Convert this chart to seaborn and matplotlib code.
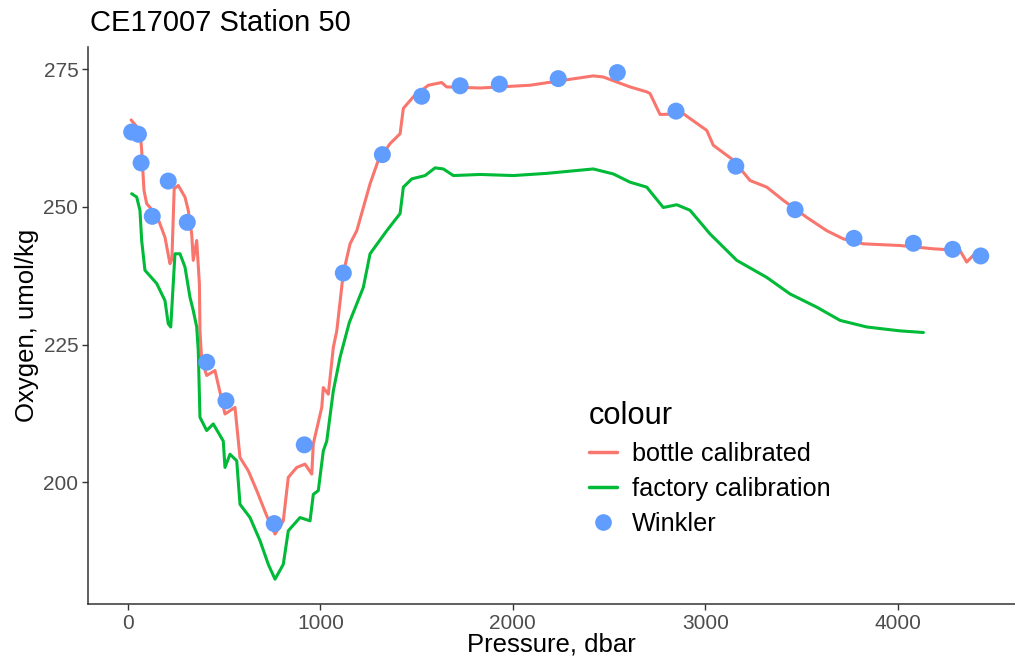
import numpy as np
import pandas as pd
import matplotlib
matplotlib.use("Agg")
import matplotlib.pyplot as plt
import seaborn as sns
from matplotlib.lines import Line2D

# ---- data ----
bottle_p = [16, 40, 62, 71, 83, 97, 149, 192, 218, 228, 240, 261, 296, 313, 331, 339, 357, 371,
            374, 383, 409, 452, 504, 556, 582, 625, 669, 721, 764, 807, 833, 877, 920, 955, 963,
            1007, 1015, 1041, 1067, 1085, 1119, 1154, 1189, 1258, 1301, 1362, 1414, 1431, 1483,
            1561, 1630, 1656, 1830, 2089, 2262, 2418, 2470, 2609, 2696, 2713, 2765, 2887, 3008,
            3042, 3146, 3233, 3320, 3406, 3528, 3631, 3718, 3822, 4012, 4186, 4324, 4359, 4393]
bottle_o2 = [265.8, 264.8, 264.0, 260.3, 253.0, 250.6, 248.5, 244.5, 239.7, 240.5, 253.3, 253.9,
             251.8, 249.4, 245.1, 240.3, 243.9, 236.0, 227.5, 222.1, 219.4, 220.3, 212.4, 213.6,
             204.5, 202.1, 198.5, 193.9, 190.6, 193.0, 200.9, 202.7, 203.3, 201.5, 207.0, 213.6,
             217.2, 216.0, 224.5, 227.5, 238.0, 243.3, 245.7, 254.2, 258.5, 261.5, 263.3, 267.9,
             270.0, 272.1, 272.6, 271.8, 271.6, 272.1, 273.0, 273.8, 273.6, 271.8, 270.9, 270.6,
             266.8, 266.9, 263.9, 261.2, 258.5, 254.8, 253.6, 251.2, 248.1, 245.7, 244.2, 243.3,
             243.0, 242.4, 242.1, 240.0, 241.2]

factory_p = [19, 45, 62, 71, 88, 149, 192, 209, 222, 244, 270, 296, 322, 339, 357, 365, 374, 409,
             443, 495, 504, 530, 565, 582, 634, 686, 729, 764, 807, 833, 894, 946, 963, 989, 1015,
             1033, 1067, 1102, 1150, 1223, 1258, 1345, 1414, 1431, 1475, 1544, 1596, 1639, 1691,
             1830, 2003, 2176, 2418, 2522, 2609, 2696, 2782, 2852, 2921, 3025, 3164, 3320, 3441,
             3580, 3701, 3840, 4012, 4134]
factory_o2 = [252.4, 251.8, 249.4, 243.9, 238.5, 236.1, 233.0, 228.8, 228.2, 241.5, 241.5, 239.1,
              233.6, 231.2, 228.2, 224.0, 211.8, 209.4, 210.6, 207.5, 202.7, 205.1, 203.9, 196.0,
              193.6, 189.4, 185.1, 182.4, 185.1, 191.2, 193.6, 193.0, 197.8, 198.5, 205.7, 207.5,
              216.6, 222.7, 229.0, 235.4, 241.5, 245.7, 248.8, 253.6, 255.1, 255.7, 257.1, 256.9,
              255.7, 255.9, 255.7, 256.1, 256.9, 256.0, 254.5, 253.6, 249.9, 250.4, 249.4, 245.1,
              240.3, 237.2, 234.2, 231.8, 229.4, 228.2, 227.5, 227.2]

winkler_p = [19, 54, 68, 126, 209, 308, 409, 509, 760, 916, 1119, 1322, 1526, 1726, 1930, 2236,
             2543, 2848, 3159, 3467, 3773, 4082, 4286, 4432]
winkler_o2 = [263.6, 263.2, 258.0, 248.3, 254.7, 247.2, 221.8, 214.8, 192.5, 206.8, 238.0, 259.5,
              270.1, 272.0, 272.3, 273.3, 274.4, 267.4, 257.4, 249.5, 244.3, 243.4, 242.3, 241.1]

series_names = ["bottle calibrated", "factory calibration", "Winkler"]
x_ticks = [0, 1000, 2000, 3000, 4000]
y_ticks = [200, 225, 250, 275]
title = "CE17007 Station 50"
x_label = "Pressure, dbar"
y_label = "Oxygen, umol/kg"
legend_title = "colour"

colors = {"bottle calibrated": "#F8766D", "factory calibration": "#00BA38", "Winkler": "#619CFF"}

lines_df = pd.concat([
    pd.DataFrame({"p": bottle_p, "o2": bottle_o2, "colour": series_names[0]}),
    pd.DataFrame({"p": factory_p, "o2": factory_o2, "colour": series_names[1]}),
], ignore_index=True)
pts_df = pd.DataFrame({"p": winkler_p, "o2": winkler_o2, "colour": series_names[2]})

# ---- figure ----
sns.set_theme(style="ticks")
plt.rcParams["font.family"] = ["Liberation Sans", "DejaVu Sans"]

fig = plt.figure(figsize=(10.15, 6.6), dpi=100)
ax = fig.add_axes([88 / 1015, 56 / 660, 1 - 88 / 1015, (604 - 46.7) / 660])

sns.lineplot(data=lines_df, x="p", y="o2", hue="colour", palette=colors, sort=False,
             estimator=None, linewidth=2.2, ax=ax, legend=False)
sns.scatterplot(data=pts_df, x="p", y="o2", color=colors["Winkler"], s=150,
                edgecolor="none", ax=ax, legend=False, zorder=5)

ax.set_xlim(-208, 4610)
ax.set_ylim(177.9, 279.1)
ax.set_xticks(x_ticks)
ax.set_yticks(y_ticks)
ax.tick_params(axis="both", labelsize=15, labelcolor="#4D4D4D", color="#333333",
               length=4, width=1, pad=3)
for s in ["top", "right"]:
    ax.spines[s].set_visible(False)
for s in ["left", "bottom"]:
    ax.spines[s].set_color("#333333")
    ax.spines[s].set_linewidth(1.1)

ax.set_xlabel(x_label, fontsize=18.5, color="black", labelpad=0)
ax.set_ylabel(y_label, fontsize=18.5, color="black", labelpad=3)

fig.text(90 / 1015, 1 - 31 / 660, title, fontsize=21, color="black", va="baseline", ha="left")

handles = [
    Line2D([0], [0], color=colors["bottle calibrated"], lw=2.5),
    Line2D([0], [0], color=colors["factory calibration"], lw=2.5),
    Line2D([0], [0], color=colors["Winkler"], lw=0, marker="o", markersize=12,
           markeredgecolor="none"),
]
leg = ax.legend(handles, series_names, title=legend_title, loc="upper left",
                bbox_to_anchor=(572 / 1015, 1 - 384 / 660), bbox_transform=fig.transFigure,
                frameon=False, fontsize=18.2, title_fontsize=22.2, alignment="left",
                handlelength=1.1, handletextpad=0.6, labelspacing=0.43, borderpad=0.68,
                borderaxespad=0)
for t in leg.get_texts():
    t.set_color("black")
leg.get_title().set_color("black")

fig.savefig("out.png", dpi=100)
